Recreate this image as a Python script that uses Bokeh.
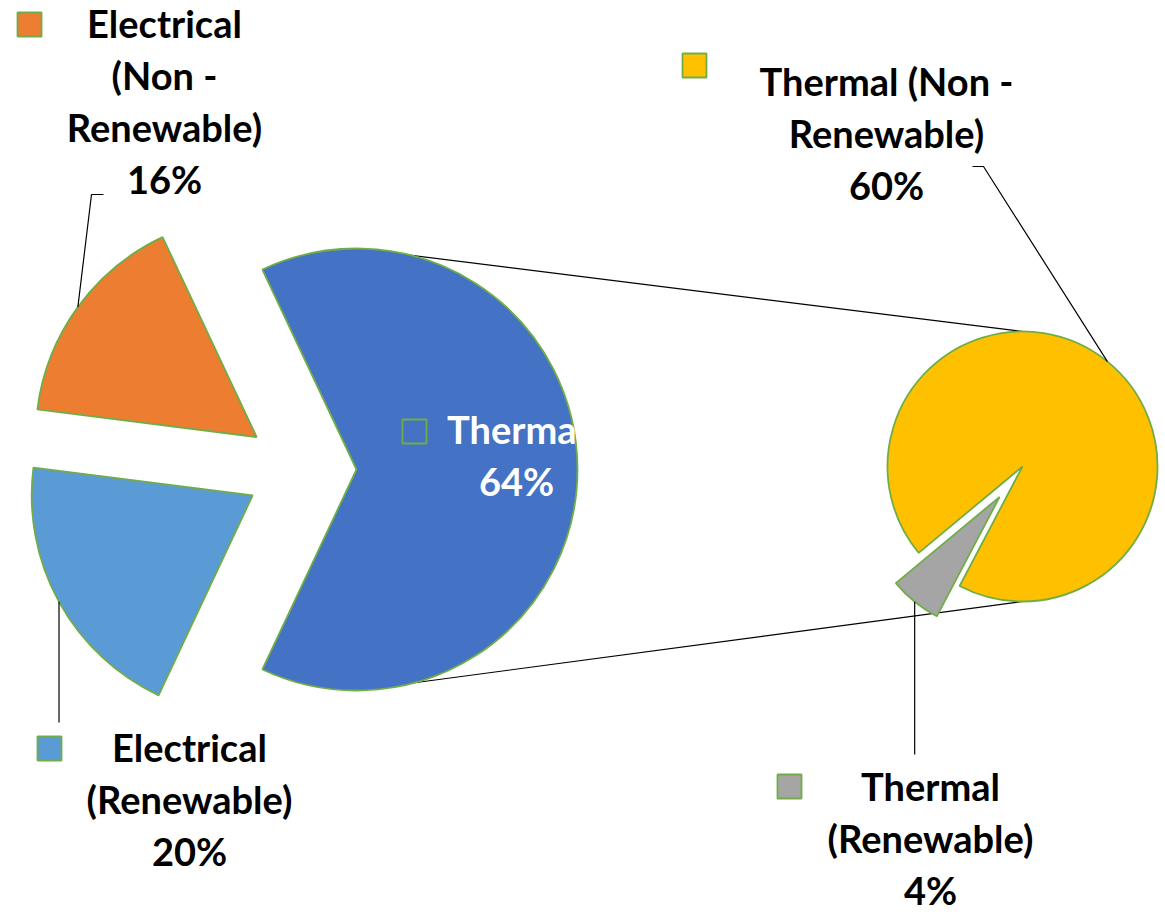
import math
from bokeh.plotting import figure
from bokeh.models import Range1d
from bokeh.core.properties import value
from bokeh.embed import file_html
from bokeh.resources import INLINE

W, H = 1165, 916

# Energy mix shares (%)
main_names = ["Thermal", "Electrical (Non - Renewable)", "Electrical (Renewable)"]
main_shares = [64, 16, 20]
main_colors = ["#4472C4", "#ED7D31", "#5B9BD5"]

# Breakdown of the thermal share (%)
sub_names = ["Thermal (Non - Renewable)", "Thermal (Renewable)"]
sub_shares = [60, 4]
sub_colors = ["#FFC000", "#A5A5A5"]

# Label text, one entry per line
main_label_lines = [["Thermal", "64%"],
                    ["Electrical", "(Non -", "Renewable)", "16%"],
                    ["Electrical", "(Renewable)", "20%"]]
sub_label_lines = [["Thermal (Non -", "Renewable)", "60%"],
                   ["Thermal", "(Renewable)", "4%"]]

EDGE = "#70AD47"
FONT = "Lato"
FSIZE = 38
LINE_H = 52
TEXT_SHIFT = -17   # baseline correction for the text glyph


def fy(y):
    """Screen y (from top) to plot y (from bottom)."""
    return H - y


p = figure(width=W, height=H, x_range=Range1d(0, W), y_range=Range1d(0, H),
           x_axis_type=None, y_axis_type=None, output_backend="svg",
           toolbar_location=None, min_border=0)
p.grid.visible = False
p.outline_line_color = None
p.background_fill_color = "white"
p.border_fill_color = "white"

# ---- geometry -------------------------------------------------------------
cx1, cy1, r1 = 356, fy(469), 221      # main pie
cx2, cy2, r2 = 1022, fy(466), 135     # secondary pie
explode_main = [(0, 0), (105, 162), (107, 194)]   # (distance, direction deg)
explode_sub = [(0, 0), (38, 233)]
sub_mid_small = 231.0                 # direction of the small thermal slice

# main pie angles: thermal slice centred on the right
main_total = sum(main_shares)
a = -main_shares[0] / main_total * 180.0
main_slices = []
for share, (d, dirn) in zip(main_shares, explode_main):
    span = share / main_total * 360.0
    ox = cx1 + d * math.cos(math.radians(dirn))
    oy = cy1 + d * math.sin(math.radians(dirn))
    main_slices.append((ox, oy, a, a + span))
    a += span

# secondary pie angles
sub_total = sum(sub_shares)
small_span = sub_shares[1] / sub_total * 360.0
s0 = sub_mid_small + small_span / 2
sub_angles = [(s0, s0 + sub_shares[0] / sub_total * 360.0),
              (sub_mid_small - small_span / 2, sub_mid_small + small_span / 2)]
sub_slices = []
for (st, en), (d, dirn) in zip(sub_angles, explode_sub):
    ox = cx2 + d * math.cos(math.radians(dirn))
    oy = cy2 + d * math.sin(math.radians(dirn))
    sub_slices.append((ox, oy, st, en))

# ---- connector lines (drawn beneath the pies) -----------------------------
p.line([cx1, cx2], [cy1 + r1, cy2 + r2], line_color="black", line_width=1.2)
p.line([cx1, cx2], [cy1 - r1, cy2 - r2], line_color="black", line_width=1.2)

# ---- wedges ---------------------------------------------------------------
for (ox, oy, st, en), col in zip(main_slices, main_colors):
    p.wedge(x=ox, y=oy, radius=r1, start_angle=st, end_angle=en,
            start_angle_units="deg", end_angle_units="deg",
            fill_color=col, line_color=EDGE, line_width=1.8)
for (ox, oy, st, en), col in zip(sub_slices, sub_colors):
    p.wedge(x=ox, y=oy, radius=r2, start_angle=st, end_angle=en,
            start_angle_units="deg", end_angle_units="deg",
            fill_color=col, line_color=EDGE, line_width=1.8)


def mid_arc(sl, r):
    ox, oy, st, en = sl
    m = math.radians((st + en) / 2)
    return ox + r * math.cos(m), oy + r * math.sin(m)


# ---- leader lines ---------------------------------------------------------
x0, y0 = mid_arc(main_slices[1], r1)
p.line([x0, 91, 103], [y0, fy(194), fy(194)], line_color="black", line_width=1.2)
x0, y0 = mid_arc(main_slices[2], r1)
p.line([x0, x0], [y0, fy(722)], line_color="black", line_width=1.2)
x0, y0 = mid_arc(sub_slices[0], r2)
p.line([x0, 983, 972], [y0, fy(166), fy(166)], line_color="black", line_width=1.2)
x0, y0 = mid_arc(sub_slices[1], r2)
p.line([x0, x0], [y0, fy(754)], line_color="black", line_width=1.2)

# ---- labels ---------------------------------------------------------------
# (key square centre, text centre x, first baseline, text colour)
label_layout = [
    ((414, 431), 516, 445, "white"),
    ((29, 24), 164, 39, "black"),
    ((49, 748), 189, 763, "black"),
]
sub_layout = [
    ((694, 65), 886, 97, "black"),
    ((789, 786), 930, 802, "black"),
]


def draw_label(sq, tx, base, tcol, lines, col):
    p.scatter(x=[sq[0]], y=[fy(sq[1])], marker="square", size=24,
              fill_color=col, line_color=EDGE, line_width=1.8)
    ys = [fy(base + TEXT_SHIFT + i * LINE_H) for i in range(len(lines))]
    p.text(x=[tx] * len(lines), y=ys, text=lines,
           text_align="center", text_baseline="alphabetic",
           text_font=value(FONT), text_font_style="bold",
           text_font_size=f"{FSIZE}px", text_color=tcol)


for (sq, tx, base, tcol), lines, col in zip(label_layout, main_label_lines, main_colors):
    draw_label(sq, tx, base, tcol, lines, col)
for (sq, tx, base, tcol), lines, col in zip(sub_layout, sub_label_lines, sub_colors):
    draw_label(sq, tx, base, tcol, lines, col)

open("out.html", "w").write(file_html(p, INLINE))
